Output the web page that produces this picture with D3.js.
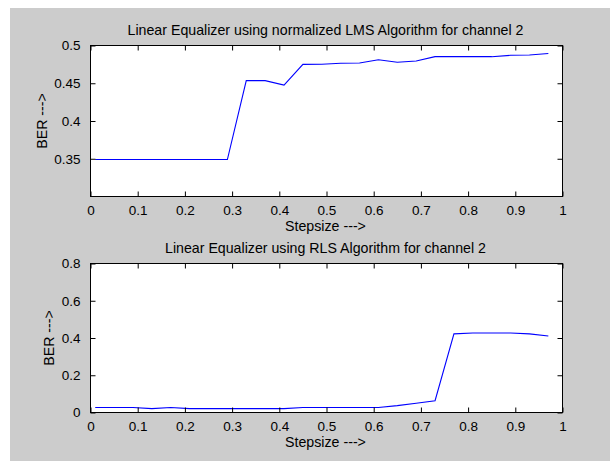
<!DOCTYPE html>
<html>
<head>
<meta charset="utf-8">
<script src="https://cdn.jsdelivr.net/npm/d3@7"></script>
<style>
  html, body { margin: 0; padding: 0; background: #ffffff; }
  svg text { font-family: "Liberation Sans", Arial, Helvetica, sans-serif; fill: #000; }
</style>
</head>
<body>
<svg id="fig" width="610" height="461"></svg>
<script>
// Step sizes swept for both equalizers
const stepsize = [0.01, 0.05, 0.09, 0.13, 0.17, 0.21, 0.25, 0.29, 0.33, 0.37, 0.41, 0.45, 0.49,
                  0.53, 0.57, 0.61, 0.65, 0.69, 0.73, 0.77, 0.81, 0.85, 0.89, 0.93, 0.97];

// Bit error rate, normalized LMS equalizer, channel 2
const berLMS = [0.349, 0.349, 0.349, 0.349, 0.349, 0.349, 0.349, 0.349, 0.4535, 0.4535, 0.4475, 0.475, 0.4752,
                0.4765, 0.4768, 0.4812, 0.4778, 0.4795, 0.4852, 0.4852, 0.4852, 0.4852, 0.4870, 0.4875, 0.4895];

// Bit error rate, RLS equalizer, channel 2
const berRLS = [0.027, 0.027, 0.027, 0.021, 0.027, 0.021, 0.021, 0.021, 0.021, 0.021, 0.021, 0.027, 0.027,
                0.027, 0.027, 0.027, 0.037, 0.050, 0.063, 0.422, 0.427, 0.427, 0.427, 0.422, 0.411];

const xTicks = [0, 0.1, 0.2, 0.3, 0.4, 0.5, 0.6, 0.7, 0.8, 0.9, 1];
const xTickLabels = ["0", "0.1", "0.2", "0.3", "0.4", "0.5", "0.6", "0.7", "0.8", "0.9", "1"];
const yTicksLMS = [0.35, 0.4, 0.45, 0.5];
const yTickLabelsLMS = ["0.35", "0.4", "0.45", "0.5"];
const yTicksRLS = [0, 0.2, 0.4, 0.6, 0.8];
const yTickLabelsRLS = ["0", "0.2", "0.4", "0.6", "0.8"];

const titles = ["Linear Equalizer using normalized LMS Algorithm for channel 2",
                "Linear Equalizer using RLS Algorithm for channel 2"];
const xLabel = "Stepsize --->";
const yLabel = "BER --->";

const svg = d3.select("#fig");

// figure background
svg.append("rect").attr("x", 10).attr("y", 8).attr("width", 600).attr("height", 453).attr("fill", "#cccccc");

const panels = [
  { title: titles[0], y: berLMS, yDomain: [0.3, 0.5], yTicks: yTicksLMS, yLabels: yTickLabelsLMS,
    left: 90.5, right: 562.5, top: 45.5, bottom: 196.5, yLabelX: 47 },
  { title: titles[1], y: berRLS, yDomain: [0, 0.8], yTicks: yTicksRLS, yLabels: yTickLabelsRLS,
    left: 90.5, right: 562.5, top: 263.5, bottom: 412.5, yLabelX: 54 }
];

const tickLen = 5;

panels.forEach(p => {
  const x = d3.scaleLinear().domain([0, 1]).range([p.left, p.right]);
  const y = d3.scaleLinear().domain(p.yDomain).range([p.bottom, p.top]);
  const g = svg.append("g");

  // plot area
  g.append("rect").attr("x", p.left).attr("y", p.top)
    .attr("width", p.right - p.left).attr("height", p.bottom - p.top).attr("fill", "#ffffff");

  // curve
  const line = d3.line().x((d, i) => x(stepsize[i])).y(d => y(d));
  g.append("path").datum(p.y).attr("d", line)
    .attr("fill", "none").attr("stroke", "#0000ff").attr("stroke-width", 1.1);

  // inward ticks on all four sides via d3 axes
  const fmtX = (d, i) => xTickLabels[i];
  const fmtY = (d, i) => p.yLabels[i];

  const axB = g.append("g").attr("transform", `translate(0,${p.bottom})`)
    .call(d3.axisBottom(x).tickValues(xTicks).tickFormat(fmtX).tickSizeInner(-tickLen).tickSizeOuter(0).tickPadding(9));
  const axT = g.append("g").attr("transform", `translate(0,${p.top})`)
    .call(d3.axisTop(x).tickValues(xTicks).tickFormat("").tickSizeInner(-tickLen).tickSizeOuter(0));
  const axL = g.append("g").attr("transform", `translate(${p.left},0)`)
    .call(d3.axisLeft(y).tickValues(p.yTicks).tickFormat(fmtY).tickSizeInner(-tickLen).tickSizeOuter(0).tickPadding(10));
  const axR = g.append("g").attr("transform", `translate(${p.right},0)`)
    .call(d3.axisRight(y).tickValues(p.yTicks).tickFormat("").tickSizeInner(-tickLen).tickSizeOuter(0));

  [axB, axT, axL, axR].forEach(a => {
    a.select(".domain").remove();
    a.selectAll(".tick line").attr("stroke", "#000").attr("stroke-width", 1);
    a.selectAll(".tick text").attr("font-size", 13.5).attr("fill", "#000");
  });

  // box
  g.append("rect").attr("x", p.left).attr("y", p.top)
    .attr("width", p.right - p.left).attr("height", p.bottom - p.top)
    .attr("fill", "none").attr("stroke", "#000").attr("stroke-width", 1);

  const cx = (p.left + p.right) / 2;

  g.append("text").attr("x", cx - 1).attr("y", p.top - 11)
    .attr("text-anchor", "middle").attr("font-size", 14.2).text(p.title);

  g.append("text").attr("x", cx - 1).attr("y", p.bottom + 34)
    .attr("text-anchor", "middle").attr("font-size", 14.2).text(xLabel);

  g.append("text")
    .attr("transform", `translate(${p.yLabelX},${(p.top + p.bottom) / 2}) rotate(-90)`)
    .attr("text-anchor", "middle").attr("font-size", 14.2).text(yLabel);
});
</script>
</body>
</html>
